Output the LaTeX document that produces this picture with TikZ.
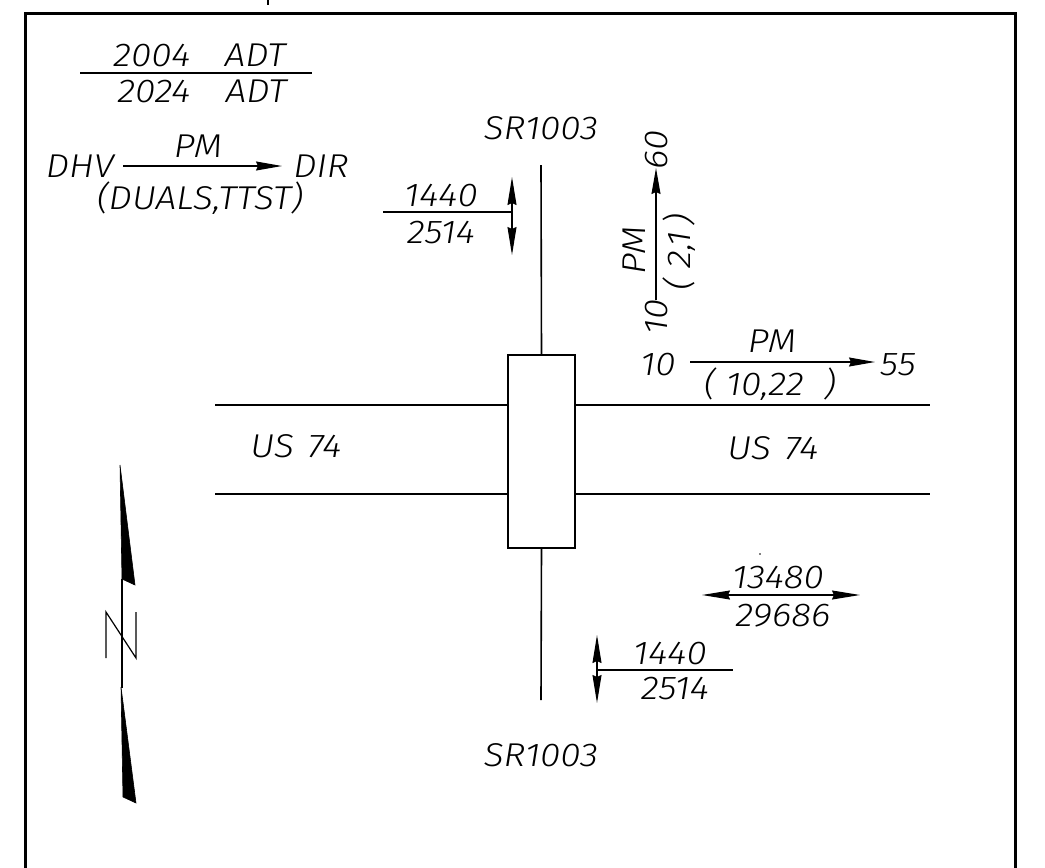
\documentclass[tikz,border=0pt]{standalone}
\usepackage{fontspec}
\setmainfont{Fira Sans Light Italic}[FakeStretch=1.12]
\usetikzlibrary{arrows.meta}
\begin{document}
\begin{tikzpicture}[x=1pt,y=-1pt,
  lbl/.style={font=\fontsize{33}{36}\selectfont, inner sep=0pt, anchor=center, text height=23pt, text depth=0pt},
  rlbl/.style={lbl, rotate=90},
  road/.style={line width=1.6pt},
  thin/.style={line width=1.2pt},
  frame/.style={line width=3pt},
  tipend/.style={-{Stealth[length=26pt,width=9pt,inset=2pt]}},
  tipboth/.style={{Stealth[length=28pt,width=9pt,inset=2pt]}-{Stealth[length=28pt,width=9pt,inset=2pt]}},
  nfill/.style={fill=black, draw=black, line width=0.6pt}]
\useasboundingbox (0,0) rectangle (1045,868);
% frame
\draw[frame] (25,875) -- (25,13) -- (1015,13) -- (1015,875);
\draw[line width=2pt] (268,0) -- (268,5);
% legend
\node[lbl] (a1) at (152,55) {2004};
\node[lbl] (a2) at (255,55) {ADT};
\coordinate (lgl) at (80,73); \coordinate (lgr) at (312,73);
\draw[thin] (lgl) -- (lgr);
\node[lbl] (b1) at (154,91) {2024};
\node[lbl] (b2) at (256,91) {ADT};
\node[lbl] (dhv) at (80,166) {DHV};
\node[lbl] (dir) at (321,166) {DIR};
\coordinate (la) at (123,166); \coordinate (lb) at (282,166);
\draw[thin, tipend] (la) -- (lb);
\node[lbl] (pm1) at (198,146) {PM};
\node[lbl] (duals) at (200,198) {(DUALS,TTST)};
% roads
\node[draw, line width=1.8pt, minimum width=67pt, minimum height=193pt, inner sep=0pt] (box) at (541.5,451.5) {};
\coordinate (nt) at (541,165); \coordinate (sb) at (541,700);
\draw[road] (nt) -- (box.north);
\draw[road] (box.south) -- (sb);
\coordinate (w1) at (215,405); \coordinate (w2) at (215,494);
\coordinate (e1) at (930,405); \coordinate (e2) at (930,494);
\draw[road] (w1) -- (w1 -| box.west);
\draw[road] (w2) -- (w2 -| box.west);
\draw[road] (e1 -| box.east) -- (e1);
\draw[road] (e2 -| box.east) -- (e2);
\node[lbl] (usw) at (296,446) {US\hspace{14pt}74};
\node[lbl] (use) at (773,448) {US\hspace{14pt}74};
\node[lbl] (srn) at (541,128) {SR1003};
\node[lbl] (srs) at (541,755) {SR1003};
% north approach volumes
\node[lbl] (n1) at (441,195) {1440};
\node[lbl] (n2) at (441,232) {2514};
\coordinate (nl) at (383,212); \coordinate (nr) at (512,212);
\draw[thin] (nl) -- (nr);
\coordinate (nu) at (512,177); \coordinate (nd) at (512,255);
\draw[thin, tipboth] (nu) -- (nd);
% vertical DHV arrow
\coordinate (vb) at (656,300); \coordinate (vt) at (656,168);
\draw[thin, tipend] (vb) -- (vt);
\node[rlbl] (v60) at (656,150) {60};
\node[rlbl] (v10) at (656,317) {10};
\node[rlbl] (vpm) at (634,250) {PM};
\node[rlbl] (v21) at (679,252) {(\hspace{10pt}2,1\hspace{6pt})};
% horizontal DHV arrow
\coordinate (hl) at (690,362); \coordinate (hr) at (875,362);
\draw[thin, tipend] (hl) -- (hr);
\node[lbl] (h10) at (658,364) {10};
\node[lbl] (h55) at (898,364) {55};
\node[lbl] (hpm) at (772,341) {PM};
\node[lbl] (h22) at (770,384) {( 10,22 \ )};
% east volumes
\node[lbl] (e13) at (778,577) {13480};
\node[lbl] (e29) at (783,615) {29686};
\coordinate (el) at (702,595); \coordinate (er) at (860,595);
\draw[thin, tipboth] (el) -- (er);
\fill (760,554) circle (0.8pt);
% south approach volumes
\node[lbl] (s1) at (670,653) {1440};
\node[lbl] (s2) at (675,688) {2514};
\coordinate (sl) at (597,670); \coordinate (sr) at (733,670);
\draw[thin] (sl) -- (sr);
\coordinate (su) at (597,635); \coordinate (sd) at (597,703);
\draw[thin, tipboth] (su) -- (sd);
% north arrow
\filldraw[nfill] (120,465) -- (135,585) -- (122,579) -- cycle;
\draw[thin] (122,579) -- (122,688);
\draw[thin] (106,658) -- (106,612) -- (136,658) -- (136,612);
\filldraw[nfill] (121,687) -- (136,803) -- (123,797) -- cycle;
\end{tikzpicture}
\end{document}
